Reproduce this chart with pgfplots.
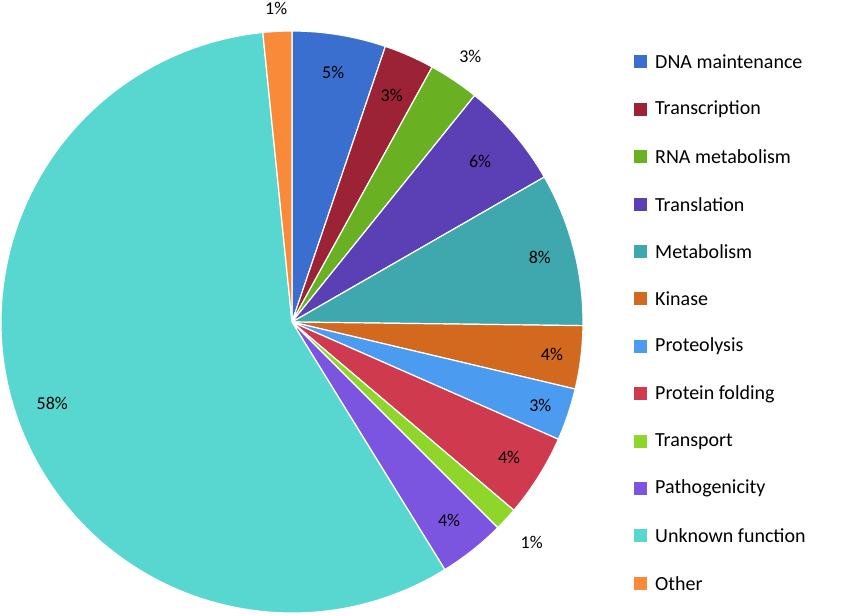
\documentclass[border=0pt]{standalone}
\usepackage{pgfplots}
\pgfplotsset{compat=1.18}
\usepackage{fontspec}
\setmainfont{Carlito}
\definecolor{c1}{HTML}{3A6FD0}
\definecolor{c2}{HTML}{9B2335}
\definecolor{c3}{HTML}{6AB023}
\definecolor{c4}{HTML}{5A3FB5}
\definecolor{c5}{HTML}{3FA8AE}
\definecolor{c6}{HTML}{D2691E}
\definecolor{c7}{HTML}{4B9BF0}
\definecolor{c8}{HTML}{D03A4F}
\definecolor{c9}{HTML}{8FD62A}
\definecolor{c10}{HTML}{7B55E0}
\definecolor{c11}{HTML}{58D6D0}
\definecolor{c12}{HTML}{F98A3A}
\begin{document}
\begin{tikzpicture}
\begin{axis}[hide axis, scale only axis, width=850pt, height=615pt,
  xmin=0,xmax=850,ymin=0,ymax=615, clip=false, anchor=south west, at={(0,0)}]
\addplot[draw=none] coordinates {(0,0) (850,615)};
\pgfplotsextra{
\xdef\cum{0}
\foreach \v/\c/\l/\f in {5.2/c1/5\%/0.87, 2.8/c2/3\%/0.85, 2.8/c3/3\%/1.1, 5.9/c4/6\%/0.85,
  8.5/c5/8\%/0.88, 3.5/c6/4\%/0.9, 2.9/c7/3\%/0.9, 4.6/c8/4\%/0.88, 1.3/c9/1\%/1.12,
  3.7/c10/4\%/0.87, 57.2/c11/58\%/0.87, 1.6/c12/1\%/1.08}{
  \pgfmathsetmacro\a{90-3.6*\cum}
  \pgfmathsetmacro\b{90-3.6*(\cum+\v)}
  \pgfmathsetmacro\m{(\a+\b)/2}
  \fill[\c,draw=white,line width=1.2pt] (axis cs:292,293) -- ++(\a:291pt) arc[start angle=\a,end angle=\b,radius=291pt] -- cycle;
  \node[font=\fontsize{18}{20}\selectfont] at ([shift={(\m:\f*291pt)}]axis cs:292,293) {\l};
  \pgfmathsetmacro\nc{\cum+\v}
  \xdef\cum{\nc}
}
\foreach \c/\t [count=\i from 0] in {c1/DNA maintenance, c2/Transcription, c3/RNA metabolism,
  c4/Translation, c5/Metabolism, c6/Kinase, c7/Proteolysis, c8/Protein folding,
  c9/Transport, c10/Pathogenicity, c11/Unknown function, c12/Other}{
  \fill[\c] (axis cs:634,{615-62-47.4*\i-6.5}) rectangle ++(13pt,13pt);
  \node[anchor=west,inner sep=0pt,font=\fontsize{20}{22}\selectfont] at (axis cs:655,{615-62-47.4*\i}) {\t};
}
}
\end{axis}
\pgfresetboundingbox
\useasboundingbox (0,0) rectangle (850pt,615pt);
\end{tikzpicture}
\end{document}
